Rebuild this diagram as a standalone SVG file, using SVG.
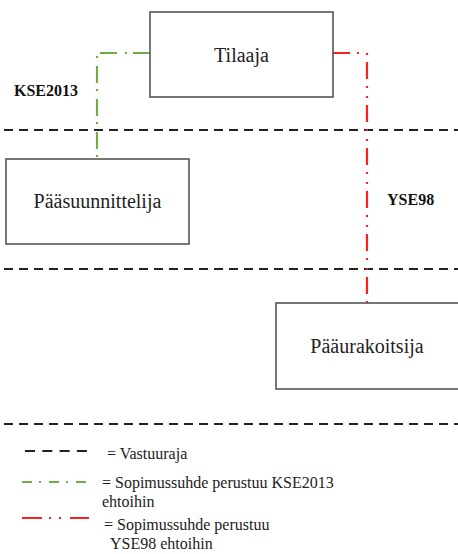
<svg xmlns="http://www.w3.org/2000/svg" width="458" height="554" viewBox="0 0 458 554">
  <style>
    .box { fill: #ffffff; stroke: #555555; stroke-width: 1.6; }
    .name { font-family: "Liberation Serif", "Times New Roman", serif; font-size: 20px; fill: #222222; text-anchor: middle; }
    .tag { font-family: "Liberation Serif", "Times New Roman", serif; font-size: 16px; font-weight: bold; fill: #111111; }
    .legend { font-family: "Liberation Serif", "Times New Roman", serif; font-size: 16px; fill: #222222; }
    .bound { stroke: #222222; stroke-width: 2.2; stroke-dasharray: 9 6; fill: none; }
    .kse { stroke: #70ad47; stroke-width: 2.2; fill: none; stroke-dasharray: 17 6 2 8; }
    .yse { stroke: #ff1f1f; stroke-width: 2.2; fill: none; stroke-dasharray: 17 7 2 8 2 7; }
  </style>
  <rect width="458" height="554" fill="#ffffff"/>

  <!-- responsibility boundaries -->
  <g id="boundaries">
    <line class="bound" x1="4" y1="130" x2="458" y2="130"/>
    <line class="bound" x1="4" y1="269" x2="458" y2="269"/>
    <line class="bound" x1="4" y1="424" x2="458" y2="424"/>
  </g>

  <!-- contract relationships -->
  <g id="connectors">
    <polyline class="kse" points="150,53 97,53 97,159"/>
    <polyline class="yse" points="333,53 367,53 367,303"/>
    <text class="tag" x="14" y="96">KSE2013</text>
    <text class="tag" x="387" y="205">YSE98</text>
  </g>

  <g id="tilaaja">
    <rect class="box" x="150" y="12" width="183" height="85"/>
    <text class="name" x="241.5" y="62">Tilaaja</text>
  </g>

  <g id="paasuunnittelija">
    <rect class="box" x="6" y="159" width="183" height="85"/>
    <text class="name" x="97.5" y="208">Pääsuunnittelija</text>
  </g>

  <g id="paaurakoitsija">
    <rect class="box" x="276" y="303" width="186" height="86"/>
    <text class="name" x="367" y="353">Pääurakoitsija</text>
  </g>

  <!-- legend -->
  <g id="legend">
    <line stroke="#222222" stroke-width="2.2" stroke-dasharray="10 7.3" x1="25" y1="451" x2="88" y2="451"/>
    <text class="legend" x="107" y="459">= Vastuuraja</text>

    <line stroke="#70ad47" stroke-width="2.2" stroke-dasharray="10 7 2 8" x1="22" y1="482" x2="88" y2="482"/>
    <text class="legend" x="102" y="488">= Sopimussuhde perustuu KSE2013</text>
    <text class="legend" x="102" y="507">ehtoihin</text>

    <line stroke="#ff1f1f" stroke-width="2.2" stroke-dasharray="20 7 2 8 2 9" x1="22" y1="518" x2="89" y2="518"/>
    <text class="legend" x="104" y="530">= Sopimussuhde perustuu</text>
    <text class="legend" x="110" y="549">YSE98 ehtoihin</text>
  </g>
</svg>
